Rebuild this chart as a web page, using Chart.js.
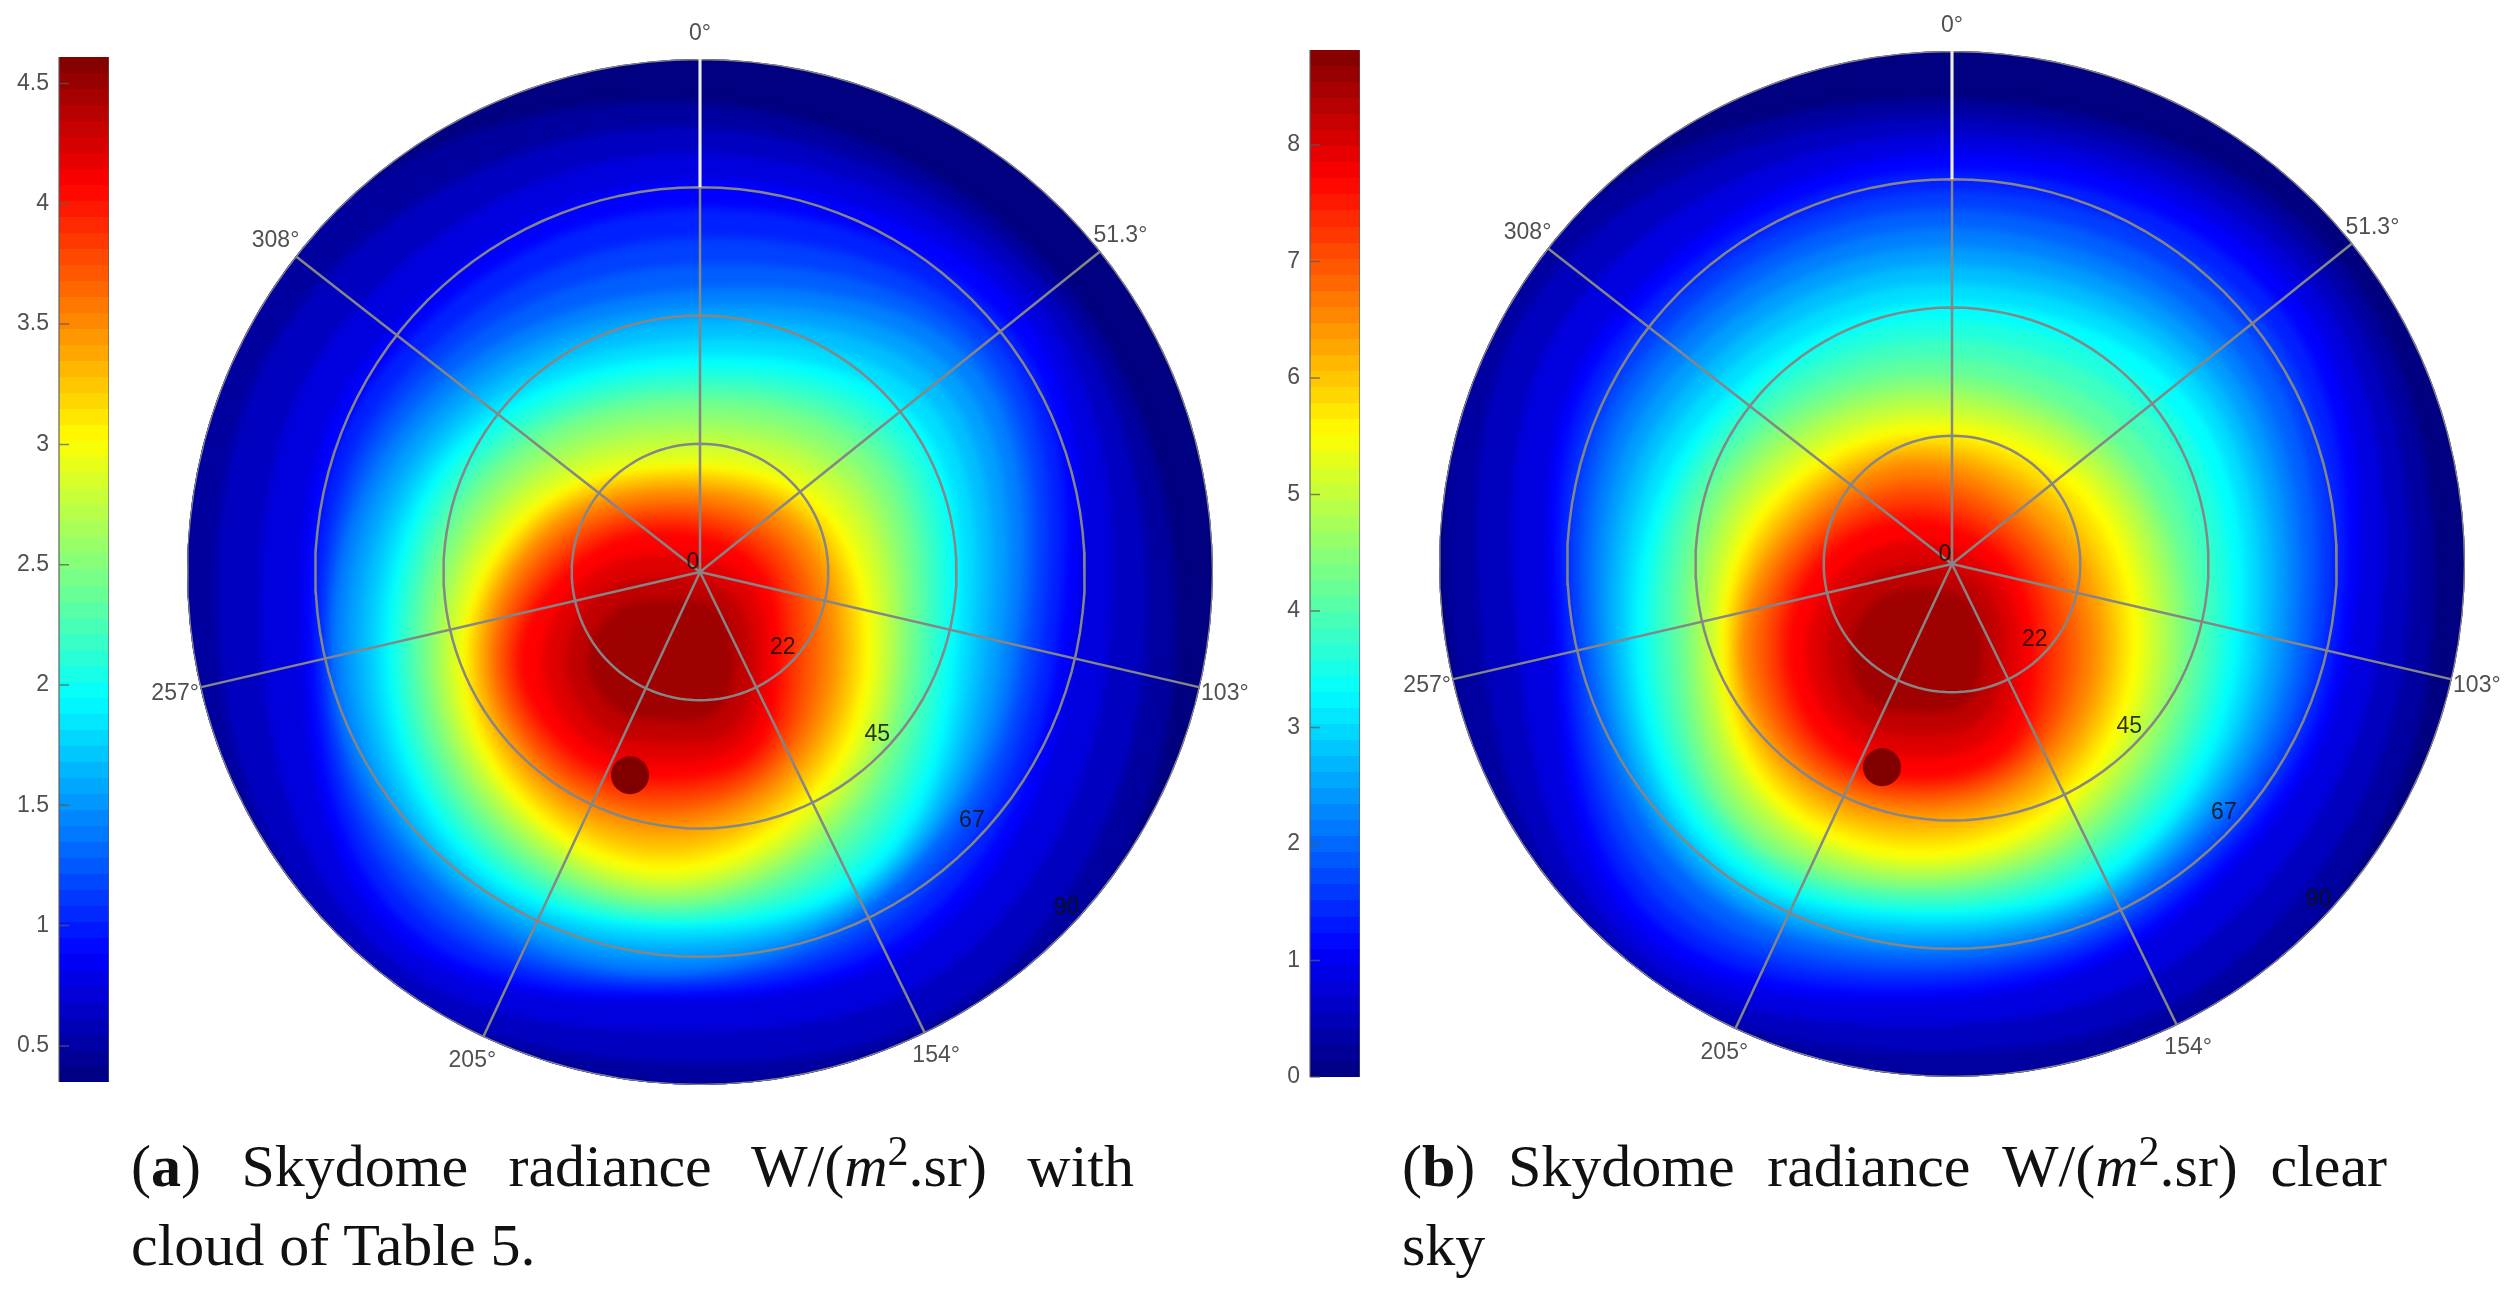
<!DOCTYPE html>
<html>
<head>
<meta charset="utf-8">
<title>Skydome radiance</title>
<script src="https://cdn.jsdelivr.net/npm/chart.js@4"></script>
<style>
  html, body { margin: 0; background: #fff; overflow: hidden; width: 2511px; height: 1294px; }
  .box { position: absolute; }
  .box canvas { filter: blur(0.7px); }
  .caption { position: absolute; font-family: "Liberation Serif", serif; font-size: 60px; line-height: 79px; color: #111; white-space: nowrap; }
  .caption .first { text-align-last: justify; white-space: normal; }
  .caption sup { line-height: 0; font-size: 42px; }
</style>
</head>
<body>
<div class="box" id="barBoxA"><canvas id="barA"></canvas></div>
<div class="box" id="skyBoxA"><canvas id="skyA"></canvas></div>
<div class="box" id="barBoxB"><canvas id="barB"></canvas></div>
<div class="box" id="skyBoxB"><canvas id="skyB"></canvas></div>

<div class="caption" style="left:131px; top:1127px; width:1003px;">
  <div class="first">(<b>a</b>) Skydome radiance W/(<i>m</i><sup>2</sup>.sr) with</div>
  <div>cloud of Table 5.</div>
</div>
<div class="caption" style="left:1402px; top:1127px; width:985px;">
  <div class="first">(<b>b</b>) Skydome radiance W/(<i>m</i><sup>2</sup>.sr) clear</div>
  <div>sky</div>
</div>

<script>
// axis ticks of the sky plot
const azimuthTicks = [0, 51.3, 103, 154, 205, 257, 308];
const azimuthLabels = ["0°", "51.3°", "103°", "154°", "205°", "257°", "308°"];
const zenithTicks = [22.5, 45, 67.5, 90];
const zenithLabels = ["22", "45", "67", "90"];

// colorbar ranges
const rangeA = [0.35, 4.61];
const rangeB = [0, 8.815];

// sun spot, same place in both plots
const sunAzimuth = 199;
const sunZenith = 37.7;

// glow is read as contours around this spot (sky units, 513 = horizon)
const glowCenter = [-35, -90];
const contourBearings = [0, 45, 90, 135, 180, 225, 270, 315];

// radiance of each contour, W/(m2.sr)
const levelsA = [0.48, 0.62, 0.75, 0.88, 1.02, 1.15, 1.28, 1.42, 1.55, 1.68, 1.81, 1.95, 2.08, 2.21, 2.35, 2.48,
  2.61, 2.75, 2.88, 3.01, 3.15, 3.28, 3.41, 3.54, 3.68, 3.81, 3.94, 4.08, 4.21, 4.34, 4.48];
const levelsB = [0.28, 0.55, 0.83, 1.10, 1.38, 1.65, 1.93, 2.20, 2.48, 2.75, 3.03, 3.31, 3.58, 3.86, 4.13, 4.41,
  4.68, 4.96, 5.23, 5.51, 5.78, 6.06, 6.34, 6.61, 6.89, 7.16, 7.44, 7.71, 7.99, 8.26, 8.54];

// distance of each contour from glowCenter along contourBearings
const contoursA = [
  [560, 550, 510, 487, 430, 450, 475, 560],
  [535, 535, 480, 455, 400, 425, 445, 510],
  [508, 518, 442, 418, 368, 405, 402, 465],
  [480, 500, 406, 382, 337, 385, 361, 425],
  [452, 480, 390, 365, 330, 368, 350, 405],
  [422, 462, 374, 348, 322, 350, 342, 385],
  [395, 445, 360, 333, 316, 335, 336, 370],
  [370, 430, 349, 320, 310, 320, 331, 355],
  [353, 410, 335, 314, 298, 310, 319, 340],
  [338, 390, 320, 308, 286, 300, 306, 325],
  [321, 370, 306, 301, 276, 290, 293, 312],
  [305, 350, 292, 295, 266, 280, 281, 300],
  [292, 335, 280, 283, 260, 270, 271, 289],
  [280, 320, 268, 271, 254, 260, 261, 277],
  [269, 305, 257, 258, 248, 250, 251, 266],
  [258, 290, 246, 245, 242, 240, 241, 255],
  [243, 273, 236, 235, 235, 230, 232, 242],
  [228, 257, 227, 225, 228, 221, 223, 229],
  [213, 241, 217, 215, 220, 211, 214, 217],
  [199, 225, 208, 205, 212, 204, 205, 205],
  [192, 214, 198, 195, 201, 195, 198, 197],
  [185, 204, 188, 185, 189, 186, 191, 189],
  [177, 195, 178, 175, 176, 177, 184, 182],
  [170, 185, 168, 165, 163, 168, 177, 175],
  [160, 172, 155, 155, 152, 159, 170, 165],
  [151, 160, 141, 146, 141, 150, 162, 155],
  [142, 147, 128, 137, 129, 140, 154, 145],
  [132, 135, 116, 128, 118, 130, 146, 135],
  [108, 115, 102, 112, 100, 112, 122, 115],
  [85, 95, 88, 95, 80, 92, 100, 95],
  [62, 75, 70, 72, 58, 68, 78, 72],
];
const contoursB = [
  [554, 577, 514, 474, 425, 445, 465, 555],
  [537, 560, 488, 442, 398, 426, 434, 525],
  [519, 542, 460, 406, 371, 409, 398, 488],
  [500, 523, 431, 370, 345, 392, 363, 450],
  [482, 503, 418, 358, 334, 374, 353, 434],
  [462, 482, 405, 347, 322, 356, 343, 418],
  [444, 461, 392, 337, 311, 338, 333, 401],
  [425, 440, 378, 327, 300, 320, 323, 385],
  [406, 424, 365, 319, 291, 311, 313, 368],
  [388, 407, 351, 311, 281, 301, 303, 350],
  [369, 391, 338, 303, 272, 292, 292, 333],
  [350, 374, 324, 296, 263, 283, 282, 315],
  [332, 353, 310, 285, 256, 273, 270, 302],
  [314, 332, 297, 274, 249, 263, 258, 290],
  [296, 310, 284, 263, 241, 255, 245, 277],
  [279, 289, 271, 252, 234, 247, 233, 265],
  [266, 276, 259, 242, 227, 236, 223, 252],
  [254, 264, 247, 232, 220, 225, 214, 240],
  [241, 251, 235, 222, 212, 214, 204, 227],
  [229, 238, 224, 213, 205, 206, 197, 215],
  [219, 224, 212, 202, 194, 196, 191, 205],
  [209, 209, 201, 191, 182, 186, 185, 195],
  [200, 195, 190, 180, 170, 176, 179, 185],
  [190, 180, 178, 169, 159, 166, 174, 175],
  [176, 168, 164, 159, 150, 157, 163, 165],
  [163, 155, 150, 150, 141, 148, 151, 155],
  [149, 142, 135, 141, 133, 138, 140, 145],
  [136, 130, 120, 132, 125, 128, 130, 135],
  [113, 112, 104, 112, 104, 108, 110, 112],
  [90, 95, 86, 92, 82, 88, 90, 92],
  [66, 75, 66, 70, 58, 66, 68, 68],
];

const SKY_RADIUS = 513;
const VIEW_RADIUS = 570;
const BAR_AXIS_WIDTH = 59;
const BAR_WIDTH = 50;
const BAR_PAD = 20;
const GRID_COLOR = "#868686";
const LABEL_COLOR = "#505050";
const LABEL_FONT = { family: "'Liberation Sans', sans-serif", size: 23 };

function jet(t) {
  const part = (c) => Math.round(255 * Math.max(0, Math.min(1, 1.5 - Math.abs(4 * t - c))));
  return `rgb(${part(3)},${part(2)},${part(1)})`;
}

// azimuth clockwise from north, zenith in degrees
function skyPoint(azimuth, zenith) {
  const r = (zenith / 90) * SKY_RADIUS;
  const a = (azimuth * Math.PI) / 180;
  return { x: r * Math.sin(a), y: r * Math.cos(a) };
}

function ringPoints(zenith) {
  const pts = [];
  for (let az = 0; az <= 360; az += 3) pts.push(skyPoint(az, zenith));
  return pts;
}

function contourPoints(row) {
  const pts = row.map((d, i) => {
    const a = (contourBearings[i] * Math.PI) / 180;
    return { x: glowCenter[0] + d * Math.sin(a), y: glowCenter[1] + d * Math.cos(a) };
  });
  // wrap around so the spline closes smoothly
  return [pts[pts.length - 1], ...pts, pts[0], pts[1]];
}

// clip everything to the sky disc, and soften the contour fills so the bands melt together
const skyLayer = {
  id: "skyLayer",
  beforeDatasetsDraw(chart) {
    const { ctx, scales } = chart;
    const cx = scales.x.getPixelForValue(0);
    const cy = scales.y.getPixelForValue(0);
    const r = scales.x.getPixelForValue(SKY_RADIUS) - cx;
    ctx.save();
    ctx.beginPath();
    ctx.arc(cx, cy, r, 0, Math.PI * 2);
    ctx.clip();
    ctx.filter = "blur(5px)";
  },
  afterDatasetDraw(chart, args) {
    if (chart.data.datasets[args.index].isTopContour) chart.ctx.filter = "none";
  },
  afterDatasetsDraw(chart) {
    chart.ctx.restore();
  },
};

const skyLabels = {
  id: "skyLabels",
  afterDraw(chart) {
    const { ctx, scales } = chart;
    const put = (p, text) => ctx.fillText(text, scales.x.getPixelForValue(p.x), scales.y.getPixelForValue(p.y));
    ctx.save();
    ctx.textAlign = "center";
    ctx.textBaseline = "middle";
    ctx.font = `${LABEL_FONT.size}px ${LABEL_FONT.family}`;
    ctx.fillStyle = LABEL_COLOR;
    azimuthTicks.forEach((az, i) => put(skyPoint(az, 94.5), azimuthLabels[i]));
    ctx.fillStyle = "rgba(15,15,15,0.85)";
    zenithTicks.forEach((z, i) => put(skyPoint(132.5, z - 2.8), zenithLabels[i]));
    put(skyPoint(322, 2), "0");
    ctx.restore();
  },
};

function drawSky(id, boxId, centerX, centerY, range, levels, contours) {
  const side = VIEW_RADIUS * 2;
  const box = document.getElementById(boxId);
  box.style.cssText = `left:${centerX - VIEW_RADIUS}px;top:${centerY - VIEW_RADIUS}px;width:${side}px;height:${side}px;`;

  const toT = (v) => (v - range[0]) / (range[1] - range[0]);
  const datasets = [];

  // first dataset ends up on top in Chart.js
  datasets.push({ data: [skyPoint(sunAzimuth, sunZenith)], pointRadius: 19, pointBackgroundColor: "#800000", pointBorderWidth: 0, showLine: false });
  datasets.push({ data: [skyPoint(0, 90), skyPoint(0, 67.5)], showLine: true, borderColor: "#ececec", borderWidth: 3, pointRadius: 0 });
  azimuthTicks.forEach((az) => {
    datasets.push({ data: [skyPoint(az, 90), skyPoint(az, 0)], showLine: true, borderColor: GRID_COLOR, borderWidth: 2.5, pointRadius: 0 });
  });
  zenithTicks.forEach((z) => {
    datasets.push({ data: ringPoints(z), showLine: true, borderColor: GRID_COLOR, borderWidth: 2.5, pointRadius: 0 });
  });
  for (let i = levels.length - 1; i >= 0; i--) {
    datasets.push({
      data: contourPoints(contours[i]),
      isTopContour: i === levels.length - 1,
      showLine: true, fill: "shape", tension: 0.375,
      backgroundColor: jet(toT(levels[i])), borderColor: jet(toT(levels[i])),
      borderWidth: 0, pointRadius: 0,
    });
  }
  // base of the sky, a bit past the horizon so the blur does not eat the rim
  datasets.push({ data: ringPoints(99), showLine: true, fill: "shape", backgroundColor: jet(0), borderWidth: 0, pointRadius: 0 });

  new Chart(document.getElementById(id), {
    type: "scatter",
    data: { datasets: datasets },
    options: {
      responsive: true,
      maintainAspectRatio: false,
      animation: false,
      layout: { padding: 0, autoPadding: false },
      plugins: { legend: { display: false }, tooltip: { enabled: false } },
      scales: {
        x: { type: "linear", display: false, min: -VIEW_RADIUS, max: VIEW_RADIUS },
        y: { type: "linear", display: false, min: -VIEW_RADIUS, max: VIEW_RADIUS },
      },
    },
    plugins: [skyLayer, skyLabels],
  });
}

const barDecor = {
  id: "barDecor",
  afterDatasetsDraw(chart) {
    const { ctx, chartArea, scales } = chart;
    ctx.save();
    ctx.strokeStyle = "rgba(90,90,90,0.75)";
    ctx.lineWidth = 1.5;
    ctx.beginPath();
    ctx.moveTo(chartArea.left, chartArea.top);
    ctx.lineTo(chartArea.left, chartArea.bottom);
    ctx.moveTo(chartArea.right, chartArea.top);
    ctx.lineTo(chartArea.right, chartArea.bottom);
    scales.y.ticks.forEach((tick) => {
      const y = scales.y.getPixelForValue(tick.value);
      ctx.moveTo(chartArea.left, y);
      ctx.lineTo(chartArea.left + 10, y);
    });
    ctx.stroke();
    ctx.restore();
  },
};

function drawBar(id, boxId, barLeft, barTop, barBottom, range, step) {
  const box = document.getElementById(boxId);
  const w = BAR_AXIS_WIDTH + BAR_WIDTH;
  const h = barBottom - barTop + BAR_PAD * 2;
  box.style.cssText = `left:${barLeft - BAR_AXIS_WIDTH}px;top:${barTop - BAR_PAD}px;width:${w}px;height:${h}px;`;

  new Chart(document.getElementById(id), {
    type: "bar",
    data: {
      labels: ["radiance"],
      datasets: [{
        data: [range],
        barPercentage: 1,
        categoryPercentage: 1,
        backgroundColor: (c) => {
          const area = c.chart.chartArea;
          if (!area) return jet(0.5);
          // 64 flat steps like the colormap in the picture
          const g = c.chart.ctx.createLinearGradient(0, area.bottom, 0, area.top);
          for (let i = 0; i < 64; i++) {
            g.addColorStop(i / 64, jet((i + 0.5) / 64));
            g.addColorStop((i + 1) / 64, jet((i + 0.5) / 64));
          }
          return g;
        },
      }],
    },
    options: {
      responsive: true,
      maintainAspectRatio: false,
      animation: false,
      layout: { padding: { top: BAR_PAD, bottom: BAR_PAD, left: 0, right: 0 } },
      plugins: { legend: { display: false }, tooltip: { enabled: false } },
      scales: {
        x: { display: false },
        y: {
          min: range[0],
          max: range[1],
          // keep the bar exactly where the box says, labels have room in the padding
          afterFit: (scale) => {
            scale.width = BAR_AXIS_WIDTH;
            scale.paddingTop = 0;
            scale.paddingBottom = 0;
          },
          grid: { display: false, drawTicks: false },
          border: { display: false },
          ticks: {
            stepSize: step,
            includeBounds: false,
            padding: 10,
            color: LABEL_COLOR,
            font: LABEL_FONT,
            callback: (v) => String(v),
          },
        },
      },
    },
    plugins: [barDecor],
  });
}

window.onload = () => {
  drawBar("barA", "barBoxA", 59, 57, 1082, rangeA, 0.5);
  drawSky("skyA", "skyBoxA", 700, 572, rangeA, levelsA, contoursA);
  drawBar("barB", "barBoxB", 1310, 50, 1077, rangeB, 1);
  drawSky("skyB", "skyBoxB", 1952, 564, rangeB, levelsB, contoursB);
};
</script>
</body>
</html>
